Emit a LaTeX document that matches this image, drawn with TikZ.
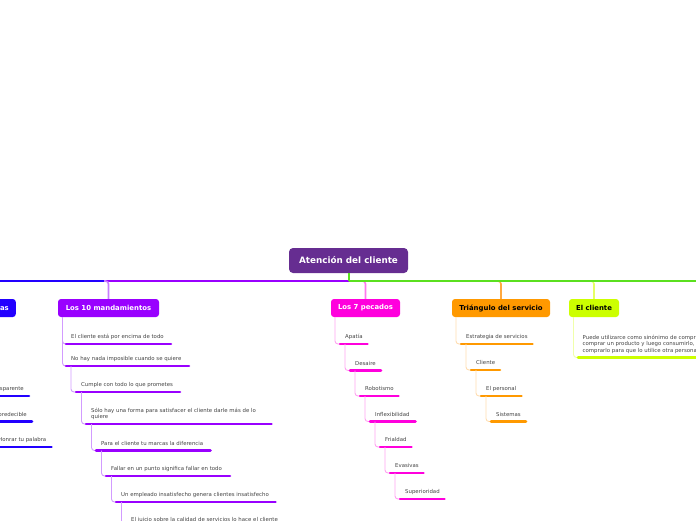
\documentclass[tikz,border=0pt]{standalone}
\usepackage{fontspec}
\setmainfont{DejaVu Sans}
\definecolor{cmain}{HTML}{662D91}
\definecolor{cA}{HTML}{9900FF}
\definecolor{cAlight}{HTML}{D29BFF}
\definecolor{cAstem}{HTML}{C77DFF}
\definecolor{cB}{HTML}{FF00DD}
\definecolor{cBlight}{HTML}{FFA3F0}
\definecolor{cBstem}{HTML}{FF77EE}
\definecolor{cC}{HTML}{FF9900}
\definecolor{cClight}{HTML}{FFDDB0}
\definecolor{cCstem}{HTML}{FFA940}
\definecolor{cD}{HTML}{CCFF00}
\definecolor{cDlight}{HTML}{F0FFAA}
\definecolor{cDstem}{HTML}{E5FF66}
\definecolor{cE}{HTML}{2200FF}
\definecolor{cG}{HTML}{5BE01F}
\definecolor{ctxt}{HTML}{444444}
\newcommand\mmleaf[8]{%
  \coordinate (#1t) at (#3,#4);
  \coordinate (#1s) at (#5,#6);
  \coordinate (#1e) at (#7,#6);
  \draw[conn,draw=#2light] (#1t) |- (#1s);
  \draw[uline,draw=#2] (#1s) -- (#1e);
  \node[itemtxt] (#1) at (#5+5,#6-5.5) {#8};
}
\begin{document}
\begin{tikzpicture}[x=1pt,y=-1pt,
  central/.style={fill=cmain, rounded corners=4pt, text=white,
    font=\fontsize{8.8}{10}\selectfont\bfseries, minimum width=119pt,
    minimum height=25pt, inner sep=0pt},
  branch/.style={rounded corners=3pt, font=\fontsize{6.9}{8}\selectfont\bfseries,
    minimum height=18pt, inner xsep=7pt, inner ysep=0pt},
  itemtxt/.style={text=ctxt, font=\fontsize{5.4}{6.5}\selectfont, inner sep=0pt,
    anchor=base west, align=left},
  uline/.style={line width=2.6pt, line cap=round},
  conn/.style={line width=0.9pt, rounded corners=3pt},
  stem/.style={line width=1.6pt, rounded corners=3pt},
]
\useasboundingbox (0,0) rectangle (696,520);
\clip (0,0) rectangle (696,520);

% central node and main line
\node[central] (root) at (348.5,260.5) {Atención del cliente};
\coordinate (hub) at (349,281);
\coordinate (farL) at (-10,281);
\coordinate (farR) at (706,281);
\coordinate (jA) at (105,281);
\draw[line width=1.4pt, cE] (farL) -- (hub);
\draw[line width=1.4pt, cA] (jA) -- (hub);
\draw[line width=1.6pt, cG] (root.south -| hub) -- (hub);

% branch nodes
\node[branch, fill=cE, text=white, anchor=east] (bE) at (16,308) {Reglas básicas};
\node[branch, fill=cA, text=white, minimum width=101pt] (bA) at (108.5,308) {Los 10 mandamientos};
\node[branch, fill=cB, text=white, minimum width=69pt] (bB) at (365.5,308) {Los 7 pecados};
\node[branch, fill=cC, text=black, minimum width=98pt] (bC) at (501,308) {Triángulo del servicio};
\node[branch, fill=cD, text=black, minimum width=50pt] (bD) at (594,308) {El cliente};

% stems
\coordinate (sA) at (104,281);
\coordinate (sB) at (361,281);
\coordinate (sC) at (497,281);
\coordinate (sD) at (589,281);
\draw[stem, cAstem] (sA) -| (bA.north);
\draw[stem, cBstem] (sB) -| (bB.north);
\draw[stem, cCstem] (sC) -| (bC.north);
\draw[stem, cDstem] (sD) -| (bD.north);
\draw[line width=1.4pt, cG] (hub) -- (farR);

% Los 10 mandamientos
\mmleaf{m1}{cA}{62.5}{317}{66}{344}{171}{El cliente está por encima de todo}
\mmleaf{m2}{cA}{62.5}{317}{66}{366}{189}{No hay nada imposible cuando se quiere}
\mmleaf{m3}{cA}{71}{366}{76}{392}{180}{Cumple con todo lo que prometes}
\mmleaf{m4}{cA}{81.5}{392}{86}{424}{271.5}{}
\node[itemtxt] (m4t) at (91,418.5) {Sólo hay una forma para satisfacer el cliente darle más de lo\\quiere};
\mmleaf{m5}{cA}{91.5}{424}{96}{450.5}{210.5}{Para el cliente tu marcas la diferencia}
\mmleaf{m6}{cA}{101.5}{450.5}{106}{476}{230}{Fallar en un punto significa fallar en todo}
\mmleaf{m7}{cA}{111.5}{476}{116}{502}{275.5}{Un empleado insatisfecho genera clientes insatisfecho}
\mmleaf{m8}{cA}{121.5}{502}{126}{527}{290}{El juicio sobre la calidad de servicios lo hace el cliente}

% Los 7 pecados
\mmleaf{p1}{cB}{335}{317}{340}{344}{367.5}{Apatía}
\mmleaf{p2}{cB}{345}{344}{350}{370.5}{381}{Desaire}
\mmleaf{p3}{cB}{355}{370.5}{360}{396}{398.5}{Robotismo}
\mmleaf{p4}{cB}{365}{396}{370}{421.5}{415.5}{Inflexibilidad}
\mmleaf{p5}{cB}{375}{421.5}{380}{447}{411.5}{Frialdad}
\mmleaf{p6}{cB}{385}{447}{390}{473}{423.5}{Evasivas}
\mmleaf{p7}{cB}{395}{473}{400}{499}{444.5}{Superioridad}

% Triangulo del servicio
\mmleaf{t1}{cC}{456}{317}{461}{344}{532.5}{Estrategia de servicios}
\mmleaf{t2}{cC}{466}{344}{471}{370}{500}{Cliente}
\mmleaf{t3}{cC}{476}{370}{481}{396}{521.5}{El personal}
\mmleaf{t4}{cC}{486}{396}{491}{421.5}{526}{Sistemas}

% El cliente
\mmleaf{c1}{cD}{573.5}{317}{578}{357.5}{720}{}
\node[itemtxt] (c1t) at (582.5,352) {Puede utilizarce como sinónimo de comprador,\\comprar un producto y luego consumirlo, o bien\\comprarlo para que lo utilice otra persona};

% Reglas (left, clipped)
\coordinate (e1s) at (-20,396);  \coordinate (e1e) at (29,396);
\coordinate (e2s) at (-20,421.5); \coordinate (e2e) at (32,421.5);
\coordinate (e3s) at (-20,447);  \coordinate (e3e) at (51.5,447);
\draw[uline, cE] (e1s) -- (e1e);
\draw[uline, cE] (e2s) -- (e2e);
\draw[uline, cE] (e3s) -- (e3e);
\node[itemtxt, anchor=base east] (e1) at (24,390.5) {Sé transparente};
\node[itemtxt, anchor=base east] (e2) at (27,416) {Sé predecible};
\node[itemtxt, anchor=base east] (e3) at (46.5,441.5) {Honrar tu palabra};
\end{tikzpicture}
\end{document}
